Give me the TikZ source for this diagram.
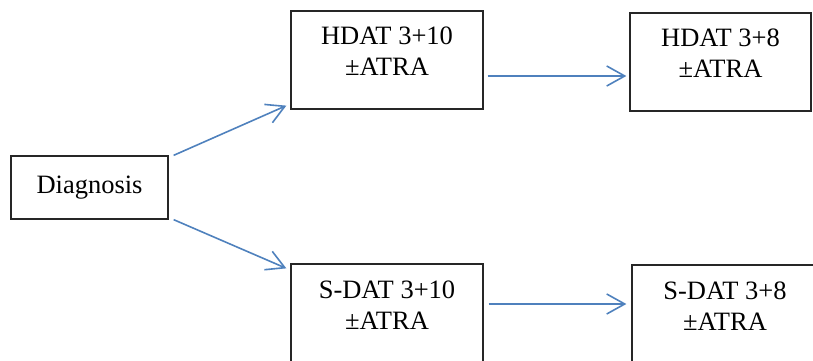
\documentclass[tikz,border=0pt]{standalone}
\usepackage{fontspec}
\setmainfont{Liberation Serif}
\usetikzlibrary{arrows.meta}
\definecolor{arrblue}{RGB}{79,129,189}

\begin{document}
\begin{tikzpicture}[x=1pt,y=1pt,
    stage/.style={draw=black!85, line width=1.3pt, align=center, inner sep=0pt,
        minimum width=192pt, minimum height=98pt, text height=65pt, text depth=33pt,
        font=\fontsize{26.5}{31}\selectfont},
    diag/.style={draw=black!85, line width=1.3pt, inner sep=0pt, minimum width=157pt,
        minimum height=63pt, font=\fontsize{26.5}{31}\selectfont},
    flow/.style={-{Straight Barb[length=18pt,width=20pt]}, arrblue, line width=1.6pt}]

\useasboundingbox (0,0) rectangle (813,361);
\node [diag] (Dg) at (89.5,173.5){Diagnosis};
\node [stage] (H310) at (387,301){HDAT 3+10\\±ATRA};
\node [stage, minimum width=181pt] (H38) at (720.5,299){HDAT 3+8\\±ATRA};
\node [stage, minimum height=100pt, text height=66pt, text depth=34pt] (S310) at (387,47){S-DAT 3+10\\±ATRA};
\node [stage, minimum width=186pt, minimum height=100pt, text height=66pt, text depth=34pt] (S38) at (725,46){S-DAT 3+8\\±ATRA};
\draw[flow] ([xshift=5pt]Dg.north east) -- ([shift={(-4pt,4pt)}]H310.south west);
\draw[flow] ([xshift=5pt]Dg.south east) -- ([shift={(-4pt,-5pt)}]S310.north west);
\draw[flow] ([shift={(4pt,-16pt)}]H310.east) -- ([shift={(-3pt,-14pt)}]H38.west);
\draw[flow] ([shift={(5pt,10pt)}]S310.east) -- ([shift={(-5pt,11pt)}]S38.west);
\end{tikzpicture}
\end{document}
